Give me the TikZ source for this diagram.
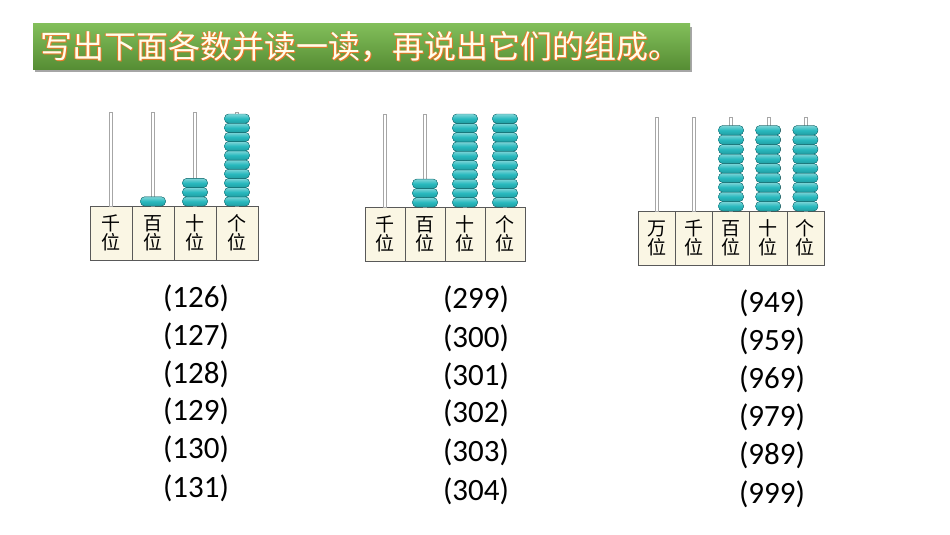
\documentclass[tikz,border=0pt]{standalone}
\usepackage{fontspec}
\setmainfont{Carlito}
\newfontfamily\cjk{Noto Sans CJK SC}
\definecolor{bead}{RGB}{40,185,190}
\definecolor{beadd}{RGB}{20,120,125}
\definecolor{cream}{RGB}{250,246,228}
\definecolor{tgreen}{RGB}{100,165,60}
\definecolor{tgreenl}{RGB}{130,190,90}
\definecolor{torange}{RGB}{235,120,40}
\tikzset{
  placebox/.style={draw=gray!70!black,fill=cream,minimum height=54pt,inner sep=0pt,font=\cjk\fontsize{19}{21}\selectfont,align=center},
  rod/.style={draw=gray!70,fill=white,line width=0.4pt},
  beadst/.style={draw=beadd,line width=0.4pt,top color=bead!60!white,bottom color=bead!85!black,middle color=bead},
  num/.style={font=\fontsize{31}{33}\selectfont},
}
\newcommand{\myabacus}[7]{%
  \foreach \lab/\cnt [count=\i] in {#6}{%
    \pgfmathsetmacro{\cx}{#1+(\i-0.5)*#3}
    \node[placebox,minimum width=#3 pt] (#7\i) at (\cx,#2+27) {\lab\\[-2pt]位};
    \filldraw[rod] (\cx-1.5,#4) rectangle (\cx+1.5,#2);
    \ifnum\cnt>0
      \foreach \k in {1,...,\cnt}{%
        \filldraw[beadst,rounded corners=#5*0.45pt] (\cx-12.5,#2-\k*#5) rectangle (\cx+12.5,#2-\k*#5+#5);
      }
    \fi
  }%
}
\begin{document}
\begin{tikzpicture}[x=1pt,y=-1pt]
\useasboundingbox (0,0) rectangle (950,535);
\fill[black!35] (35,27) rectangle (692,72);
\shade[top color=tgreenl,bottom color=tgreen!85!black] (33,24) rectangle (690,70);
\node[anchor=west,text=torange,font=\cjk\fontsize{32}{34}\selectfont] at (37.8,47.8) {写出下面各数并读一读，再说出它们的组成。};
\node[anchor=west,text=torange,font=\cjk\fontsize{32}{34}\selectfont] at (36.2,46.2) {写出下面各数并读一读，再说出它们的组成。};
\node[anchor=west,text=white!92!yellow,font=\cjk\fontsize{32}{34}\selectfont] (title) at (37,47) {写出下面各数并读一读，再说出它们的组成。};

\myabacus{90}{206}{42}{112}{9.2}{千/0,百/1,十/3,个/10}{a}
\myabacus{365}{207}{40}{114}{9.3}{千/0,百/3,十/10,个/10}{b}
\myabacus{638}{211}{37.2}{117}{9.5}{万/0,千/0,百/9,十/9,个/9}{c}

\foreach \t/\y [count=\i] in {126/298,127/336,128/374,129/411,130/449,131/488}
  \node[num] (p\i) at (196,\y) {(\t)};
\foreach \t/\y [count=\i] in {299/299,300/338,301/376,302/413,303/452,304/491}
  \node[num] (q\i) at (476,\y) {(\t)};
\foreach \t/\y [count=\i] in {949/303,959/341,969/379,979/417,989/455,999/494}
  \node[num] (r\i) at (772,\y) {(\t)};
\end{tikzpicture}
\end{document}
